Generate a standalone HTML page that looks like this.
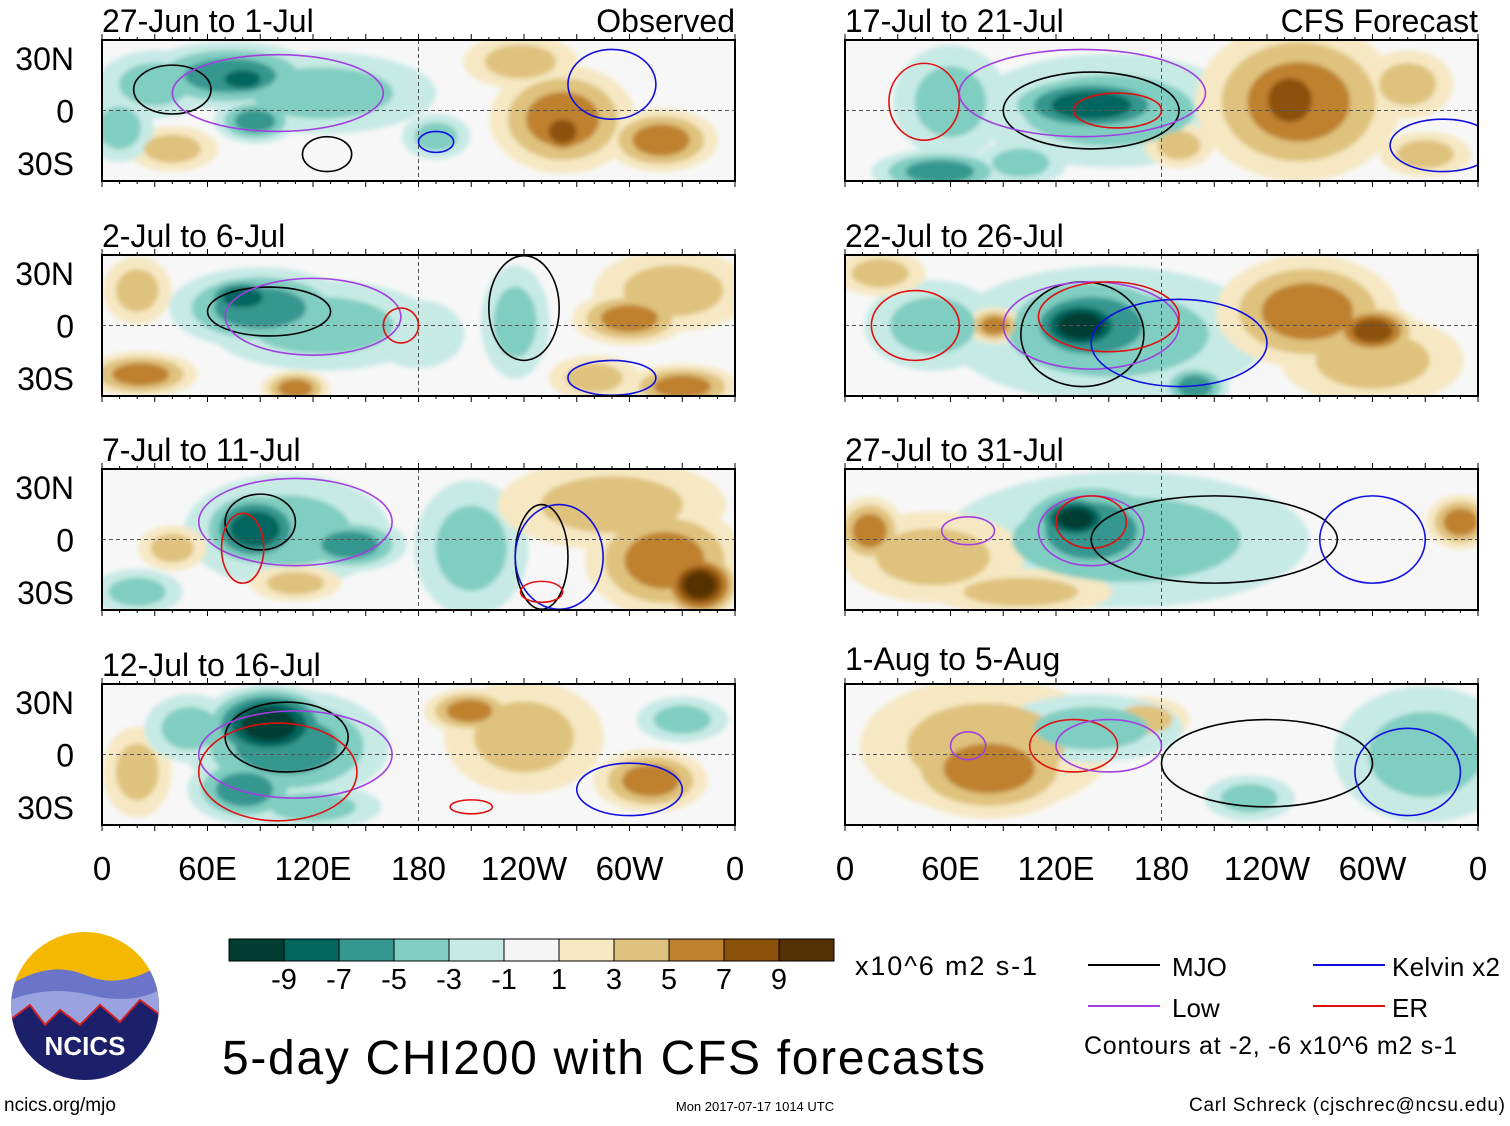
<!DOCTYPE html>
<html><head><meta charset="utf-8"><style>
body{margin:0;background:#fff;width:1510px;height:1121px;overflow:hidden;font-family:"Liberation Sans",sans-serif}
svg text{font-family:"Liberation Sans",sans-serif}
</style></head><body>
<svg id="chart" width="1510" height="1121" viewBox="0 0 1510 1121" xmlns="http://www.w3.org/2000/svg">
<defs><filter id="blur" x="-20%" y="-20%" width="140%" height="140%"><feGaussianBlur stdDeviation="2.5"/></filter></defs>
<g id="panels"></g>
<g id="legend">
  <g id="cbar"></g>
  <text x="855" y="975" font-size="27" textLength="182">x10^6 m2 s-1</text>
  <line x1="1088" y1="965" x2="1160" y2="965" stroke="#000" stroke-width="2"/>
  <text x="1172" y="976" font-size="26">MJO</text>
  <line x1="1313" y1="965" x2="1385" y2="965" stroke="#1010e0" stroke-width="2"/>
  <text x="1392" y="976" font-size="26" textLength="108">Kelvin x2</text>
  <line x1="1088" y1="1006" x2="1160" y2="1006" stroke="#a040e0" stroke-width="2"/>
  <text x="1172" y="1017" font-size="26">Low</text>
  <line x1="1313" y1="1006" x2="1385" y2="1006" stroke="#e01010" stroke-width="2"/>
  <text x="1392" y="1017" font-size="26">ER</text>
  <text x="1084" y="1054" font-size="25" textLength="373">Contours at -2, -6 x10^6 m2 s-1</text>
</g>
<text x="222" y="1074" font-size="48" textLength="763">5-day CHI200 with CFS forecasts</text>
<g>
  <clipPath id="lc"><circle cx="85" cy="1006" r="74"/></clipPath>
  <g clip-path="url(#lc)">
    <rect x="10" y="930" width="150" height="152" fill="#f5b800"/>
    <path d="M10 985 Q50 960 85 975 T160 965 V1082 H10Z" fill="#6a74c8"/>
    <path d="M10 1000 Q50 985 90 995 T160 990 V1082 H10Z" fill="#9aa2e0"/>
    <path d="M10 1020 L30 1005 L45 1025 L60 1010 L80 1025 L100 1005 L120 1022 L140 1000 L160 1015 V1082 H10Z" fill="#1c1f6a" stroke="#d02020" stroke-width="2"/>
  </g>
  <text x="85" y="1055" font-size="26" font-weight="bold" fill="#fff" text-anchor="middle">NCICS</text>
</g>
<text x="4" y="1111" font-size="19">ncics.org/mjo</text>
<text x="755" y="1111" font-size="13" text-anchor="middle">Mon 2017-07-17 1014 UTC</text>
<text x="1505" y="1111" font-size="19" text-anchor="end" textLength="316">Carl Schreck (cjschrec@ncsu.edu)</text>
</svg>
<script>
const levels=[-9,-7,-5,-3,-1,1,3,5,7,9];
const colorsNeg=["#c7eae5","#80cdc1","#35978f","#01665e","#003c30"];
const colorsPos=["#f6e8c3","#dfc27d","#bf812d","#8c510a","#543005"];
const cbarColors=["#003c30","#01665e","#35978f","#80cdc1","#c7eae5","#f5f5f5","#f6e8c3","#dfc27d","#bf812d","#8c510a","#543005"];
const panelTitles=["27-Jun to 1-Jul","2-Jul to 6-Jul","7-Jul to 11-Jul","12-Jul to 16-Jul","17-Jul to 21-Jul","22-Jul to 26-Jul","27-Jul to 31-Jul","1-Aug to 5-Aug"];
const xTickLabels=["0","60E","120E","180","120W","60W","0"];
const xTickLons=[0,60,120,180,240,300,360];
const yTickLabels=["30N","0","30S"];
const yTickLats=[30,0,-30];
// blobs per panel: lon, lat, radius-lon, radius-lat, value
const blobs0=[[73,20,40,15,-5],[80,18,18,9,-7],[125,10,50,18,-3],[87,-6,18,10,-5],[30,15,25,15,-3],[190,-15,15,10,-3],[262,-5,32,24,5],[262,-12,14,12,7],[318,-17,25,14,5],[238,28,25,12,3],[40,-22,20,10,3],[10,-10,15,15,-3]];
const blobs1=[[90,10,40,18,-5],[80,16,20,10,-7],[125,0,50,20,-3],[235,2,15,25,-3],[22,-28,25,10,5],[110,-36,15,8,5],[300,4,25,12,5],[330,-35,25,10,5],[325,20,35,18,3],[20,20,15,15,3],[180,-5,20,15,-1],[280,-30,20,10,3]];
const blobs2=[[87,6,25,18,-7],[105,5,45,25,-3],[141,-3,25,12,-5],[210,-5,25,30,-3],[340,-26,18,15,9],[320,-12,35,25,5],[290,20,50,20,3],[40,-5,15,10,3],[110,-25,20,8,3],[20,-30,20,10,-3]];
const blobs3=[[95,17,30,18,-9],[105,5,45,25,-5],[81,-20,25,15,-5],[120,-30,30,10,-3],[240,10,35,25,3],[209,25,20,10,5],[312,-15,25,14,5],[20,-10,15,20,3],[330,20,20,10,-3],[50,15,20,15,-3]];
const blobs4=[[140,3,40,14,-7],[150,0,60,25,-3],[60,5,25,25,-3],[54,-35,30,10,-5],[253,6,22,22,7],[258,5,45,35,5],[190,-20,15,10,3],[320,15,20,15,3],[330,-25,20,10,3],[100,-30,20,10,-3]];
const blobs5=[[134,0,25,15,-9],[140,0,45,25,-5],[150,-5,70,30,-3],[199,-35,15,10,-5],[50,0,30,20,-3],[263,8,40,25,5],[300,-3,20,12,7],[300,-20,40,20,3],[85,0,12,8,5],[20,30,20,10,3]];
const blobs6=[[131,12,20,12,-9],[140,5,40,25,-5],[160,0,80,30,-3],[14,5,15,15,5],[50,-10,40,20,3],[350,10,15,12,5],[100,-30,40,10,3]];
const blobs7=[[82,-8,40,22,5],[80,5,55,30,3],[170,20,20,10,3],[330,0,40,30,-3],[140,15,40,15,-3],[230,-25,20,10,-3]];
const allBlobs=[blobs0,blobs1,blobs2,blobs3,blobs4,blobs5,blobs6,blobs7];
// contours per panel: lon, lat, radius-lon, radius-lat, type
const cont0=[[40,12,22,14,"mjo"],[128,-25,14,10,"mjo"],[100,10,60,22,"low"],[290,15,25,20,"kelvin"],[190,-18,10,6,"kelvin"]];
const cont1=[[95,8,35,14,"mjo"],[120,5,50,22,"low"],[240,10,20,30,"mjo"],[170,0,10,10,"er"],[290,-30,25,10,"kelvin"]];
const cont2=[[90,10,20,16,"mjo"],[110,10,55,25,"low"],[80,-5,12,20,"er"],[250,-10,15,30,"mjo"],[260,-10,25,30,"kelvin"],[250,-30,12,6,"er"]];
const cont3=[[105,10,35,20,"mjo"],[110,0,55,25,"low"],[100,-10,45,28,"er"],[300,-20,30,15,"kelvin"],[210,-30,12,4,"er"]];
const cont4=[[45,5,20,22,"er"],[140,0,50,22,"mjo"],[135,10,70,25,"low"],[155,0,25,10,"er"],[340,-20,30,15,"kelvin"]];
const cont5=[[135,-5,35,30,"mjo"],[140,0,50,25,"low"],[150,5,40,20,"er"],[190,-10,50,25,"kelvin"],[40,0,25,20,"er"]];
const cont6=[[140,5,30,20,"low"],[140,10,20,15,"er"],[210,0,70,25,"mjo"],[70,5,15,8,"low"],[300,0,30,25,"kelvin"]];
const cont7=[[70,5,10,8,"low"],[130,5,25,15,"er"],[150,5,30,15,"low"],[240,-5,60,25,"mjo"],[320,-10,30,25,"kelvin"]];
const allConts=[cont0,cont1,cont2,cont3,cont4,cont5,cont6,cont7];
const contColors={mjo:"#000",kelvin:"#1010e0",low:"#a040e0",er:"#e01010"};

const NS="http://www.w3.org/2000/svg";
const panelsG=document.getElementById('panels');
const colX=[102,845], rowY=[40,255,469,684], PW=633, PH=141, GROW=1.3;
function mk(tag,attrs,parent){const e=document.createElementNS(NS,tag);for(const k in attrs)e.setAttribute(k,attrs[k]);parent.appendChild(e);return e;}
for(let p=0;p<8;p++){
  const x0=colX[p<4?0:1], y0=rowY[p%4];
  const xs=lon=>x0+lon/360*PW, ys=lat=>y0+PH/2-lat/40.4*(PH/2);
  const g=mk('g',{},panelsG);
  
  
  const cid='clip'+p;
  const cp=mk('clipPath',{id:cid},g); mk('rect',{x:x0,y:y0,width:PW,height:PH},cp);
  mk('rect',{x:x0,y:y0,width:PW,height:PH,fill:'#f7f7f7'},g);
  const fg=mk('g',{'clip-path':'url(#'+cid+')'},g);
  const bg=mk('g',{filter:'url(#blur)'},fg);
  [1,3,5,7,9].forEach((t,ti)=>{
    allBlobs[p].forEach(b=>{
      const v=b[4],av=Math.abs(v); if(t>av) return;
      const s=GROW*(1-(t-1)/(av+1)*0.75);
      const e=mk('ellipse',{cx:xs(b[0]),cy:ys(b[1]),rx:b[2]/360*PW*s,ry:b[3]/40.4*(PH/2)*s,fill:v<0?colorsNeg[ti]:colorsPos[ti]},bg);
      
      
    });
  });
  mk('line',{x1:x0,y1:ys(0),x2:x0+PW,y2:ys(0),stroke:'#555','stroke-dasharray':'4,3','stroke-width':1},fg);
  mk('line',{x1:xs(180),y1:y0,x2:xs(180),y2:y0+PH,stroke:'#555','stroke-dasharray':'4,3','stroke-width':1},fg);
  allConts[p].forEach(c=>{
    const e=mk('ellipse',{cx:xs(c[0]),cy:ys(c[1]),rx:c[2]/360*PW,ry:c[3]/40.4*(PH/2),fill:'none',stroke:contColors[c[4]],'stroke-width':1.6},fg);
    
    
  });
  mk('rect',{x:x0,y:y0,width:PW,height:PH,fill:'none',stroke:'#000','stroke-width':2},g);
  for(let l=0;l<=360;l+=10){mk('line',{x1:xs(l),y1:y0,x2:xs(l),y2:y0-(l%30?3:6),stroke:'#000'},g);mk('line',{x1:xs(l),y1:y0+PH,x2:xs(l),y2:y0+PH+(l%30?3:6),stroke:'#000'},g);}
  const ty=(p===7)?y0-14:y0-8;
  const t=mk('text',{x:x0,y:ty,'font-size':32},g); t.textContent=panelTitles[p];
   
  if(p===0||p===4){const r=mk('text',{x:x0+PW,y:y0-8,'font-size':32,'text-anchor':'end'},g); r.textContent=p===0?'Observed':'CFS Forecast';
     }
  if(p<4){yTickLabels.forEach((lb,i)=>{const tt=mk('text',{x:74,y:ys(yTickLats[i])+12,'font-size':32,'text-anchor':'end'},g);tt.textContent=lb;
     });}
  if(p%4===3){xTickLabels.forEach((lb,i)=>{const tt=mk('text',{x:xs(xTickLons[i]),y:880,'font-size':33,'text-anchor':'middle'},g);tt.textContent=lb;
     });}
}
const cb=document.getElementById('cbar');
cbarColors.forEach((c,i)=>{const r=mk('rect',{x:229+i*55,y:939,width:55,height:22,fill:c,stroke:'#000','stroke-width':1},cb);
   });
levels.forEach((v,i)=>{const t=mk('text',{x:284+i*55,y:989,'font-size':29,'text-anchor':'middle'},cb);t.textContent=v;
   });
</script>
</body></html>
